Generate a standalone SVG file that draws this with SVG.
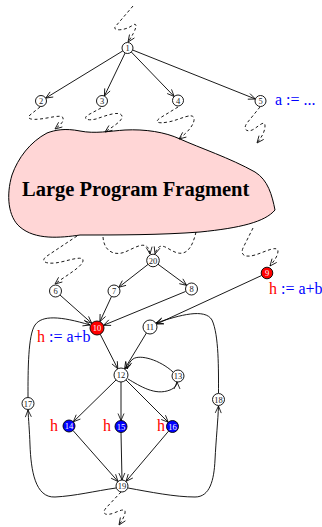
<svg xmlns="http://www.w3.org/2000/svg" width="322" height="527" viewBox="0 0 322 527">
<defs>
<marker id="ah" markerUnits="userSpaceOnUse" markerWidth="10" markerHeight="8" refX="7" refY="3" orient="auto" overflow="visible">
<path d="M0,0 L7,3 L0,6" fill="none" stroke="#000" stroke-width="0.8"/>
</marker>
</defs>
<style>
.e{fill:none;stroke:#000;stroke-width:0.9;marker-end:url(#ah)}
.d{fill:none;stroke:#000;stroke-width:0.9;stroke-dasharray:3,2.5;marker-end:url(#ah)}
.n circle{fill:#fff;stroke:#000;stroke-width:0.9}
.n text{font-family:"Liberation Serif",serif;font-size:8.5px;text-anchor:middle;fill:#222}
.r circle{fill:#f00}
.b circle{fill:#00f}
.r text,.b text{fill:#fff}
.lbl{font-family:"Liberation Serif",serif;font-size:16px}
</style>
<rect width="322" height="527" fill="#fff"/>
<g id="blob">
<path d="M47,133 C55,130 65,128 80,131 C95,134 110,131 125,130 C145,129 165,132 180,139 C200,148 230,158 255,172 C268,180 272,195 275,210 C265,222 240,228 200,232 C160,235 120,235 80,235 C60,238 35,240 20,227 C8,217 6,195 12,175 C18,158 30,142 47,133 Z" fill="#ffd6d6" stroke="#000" stroke-width="1"/>
<text x="22" y="196" font-family="Liberation Serif, serif" font-weight="bold" font-size="20.5">Large Program Fragment</text>
</g>
<g id="connectors">
<path class="d" d="M133,6 L115,27 C113,31 125,31 133,25 C138,22 137,29 128,42"/>
<path class="e" d="M122.8,50.9 L45.7,98.1"/>
<path class="e" d="M125.1,53 L104.4,96"/>
<path class="e" d="M131.3,52 L174.2,96.5"/>
<path class="e" d="M132.6,50 L255.4,99"/>
<path class="d" d="M40,107 L30,115 C26,119 32,120 40,119 C50,118 62,114 63,118 C64,122 60,125 55,129"/>
<path class="d" d="M101,108 L88,115 C82,119 88,121 96,119 C105,116 120,110 122,116 C123,121 112,127 105,132"/>
<path class="d" d="M178,107 L160,118 C154,122 158,124 168,122 C180,120 192,112 194,118 C195,124 188,132 179,139"/>
<path class="d" d="M260,107 L247,123 C242,130 248,133 254,129 C260,125 265,120 265,126 C265,132 261,138 257,143"/>
<path class="d" d="M77,236 L47,256 C40,261 45,264 55,263 C65,262 82,255 83,260 C84,266 65,276 55,284"/>
<path class="d" d="M103,237 C104,252 115,256 125,252 C135,248 148,238 150,254"/>
<path class="d" d="M196,232 C193,245 188,255 178,253 C168,251 160,238 155,254"/>
<path class="d" d="M253,228 L243,248 C240,255 245,258 255,255 C265,252 277,245 278,251 C278,256 274,261 270,266"/>
<path class="e" d="M148.3,264.2 L118.7,287.3"/>
<path class="e" d="M157.8,264.1 L186.7,285.4"/>
<path class="e" d="M60,295 L91.8,323.3"/>
<path class="e" d="M111.5,296.5 L99.9,321.6"/>
<path class="e" d="M185.5,291.5 L103.5,325.3"/>
<path class="e" d="M261.6,275.5 L156.4,324.1"/>
<path class="e" d="M100.2,334.2 L117.8,368.8"/>
<path class="e" d="M146.4,333 L124.6,369"/>
<path class="e" d="M128,379 C140,386 155,396 170,390 C175,388 177,385 177,382"/>
<path class="e" d="M173,372 C160,360 140,354 133,359 C130,361 128,365 127,369"/>
<path class="e" d="M116,380 L73.3,421.8"/>
<path class="e" d="M121,382 L121,420.5"/>
<path class="e" d="M126,380 L168.3,422.3"/>
<path class="e" d="M73,430.5 L118,481.5"/>
<path class="e" d="M121,432.5 L122,480"/>
<path class="e" d="M168.6,431.1 L126,481.4"/>
<path class="e" d="M116,488 C95,491 75,496 55,497 C35,498 31,470 30,445 C29.5,430 28.5,420 28,410"/>
<path class="e" d="M28,397 C28,370 28,335 35,325 C42,315 60,316 90,325"/>
<path class="e" d="M128,488 C150,492 175,497 195,497 C210,497 214,480 215,460 C216,440 218,420 218.5,406"/>
<path class="e" d="M218.5,393 C218.5,370 219,335 212,320 C205,308 180,315 156,323"/>
<path class="d" d="M121,492 L106,508 C101,514 106,516 114,513 C121,510 126,508 125,513 C124,518 121,522 119,525"/>
</g>
<g id="n1" class="n"><circle cx="127.5" cy="48" r="5.5"/><text x="127.5" y="51">1</text></g>
<g id="n2" class="n"><circle cx="41" cy="101" r="5.5"/><text x="41" y="104">2</text></g>
<g id="n3" class="n"><circle cx="102" cy="101" r="5.5"/><text x="102" y="104">3</text></g>
<g id="n4" class="n"><circle cx="178" cy="100.5" r="5.5"/><text x="178" y="103.5">4</text></g>
<g id="n5" class="n"><circle cx="260.5" cy="101" r="5.5"/><text x="260.5" y="104">5</text></g>
<g id="n6" class="n"><circle cx="55.5" cy="291" r="6"/><text x="55.5" y="294">6</text></g>
<g id="n7" class="n"><circle cx="114" cy="291" r="6"/><text x="114" y="294">7</text></g>
<g id="n8" class="n"><circle cx="191.5" cy="289" r="6"/><text x="191.5" y="292">8</text></g>
<g id="n9" class="n r"><circle cx="267" cy="273" r="5.8"/><text x="267" y="276">9</text></g>
<g id="n10" class="n r"><circle cx="97" cy="328" r="7"/><text x="97" y="331">10</text></g>
<g id="n11" class="n"><circle cx="150" cy="327" r="7"/><text x="150" y="330">11</text></g>
<g id="n12" class="n"><circle cx="121" cy="375" r="7"/><text x="121" y="378">12</text></g>
<g id="n13" class="n"><circle cx="178" cy="376" r="6"/><text x="178" y="379">13</text></g>
<g id="n14" class="n b"><circle cx="69" cy="426" r="6"/><text x="69" y="429">14</text></g>
<g id="n15" class="n b"><circle cx="121" cy="426.5" r="6"/><text x="121" y="429.5">15</text></g>
<g id="n16" class="n b"><circle cx="172.5" cy="426.5" r="6"/><text x="172.5" y="429.5">16</text></g>
<g id="n17" class="n"><circle cx="28" cy="403.5" r="6"/><text x="28" y="406.5">17</text></g>
<g id="n18" class="n"><circle cx="218.5" cy="399.5" r="6"/><text x="218.5" y="402.5">18</text></g>
<g id="n19" class="n"><circle cx="122" cy="486" r="6"/><text x="122" y="489">19</text></g>
<g id="n20" class="n"><circle cx="153" cy="260.5" r="6.3"/><text x="153" y="263.5">20</text></g>
<g id="labels" class="lbl">
<text x="275" y="105" fill="#00f">a := ...</text>
<text x="269" y="294"><tspan fill="#f00">h</tspan><tspan fill="#00f"> := a+b</tspan></text>
<text x="37" y="342"><tspan fill="#f00">h</tspan><tspan fill="#00f"> := a+b</tspan></text>
<text x="50" y="431" fill="#f00">h</text>
<text x="103" y="431" fill="#f00">h</text>
<text x="157" y="431" fill="#f00">h</text>
</g>
</svg>
